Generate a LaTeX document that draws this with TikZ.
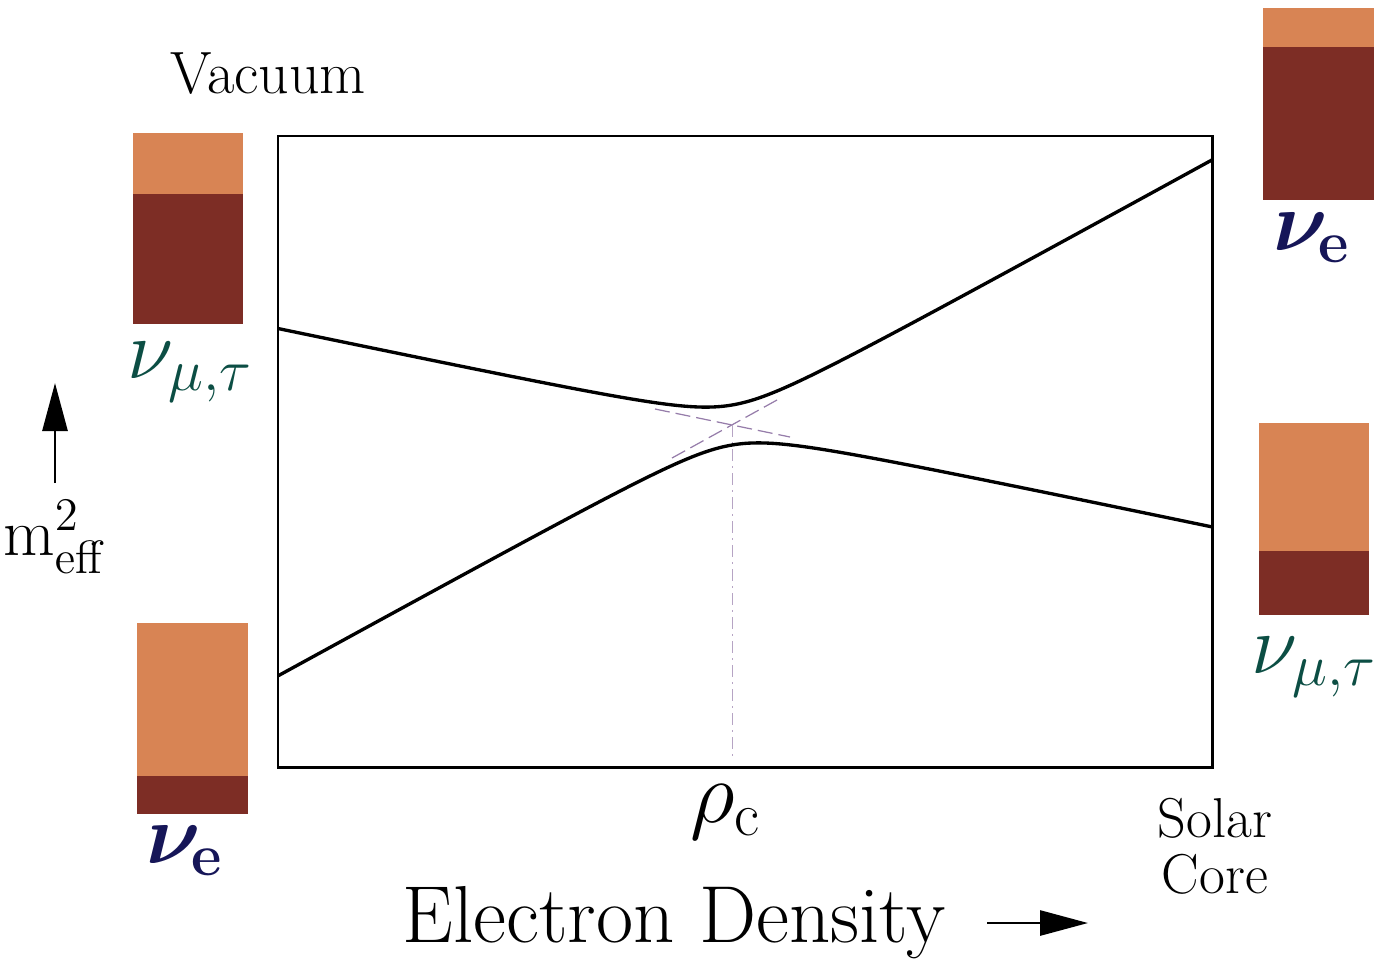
\RequirePackage{fix-cm}
\documentclass[tikz,border=0pt]{standalone}
\usepackage{amsmath, amssymb}
\usepackage{bm}
\usepackage{tikz}
\usetikzlibrary{arrows.meta}
\definecolor{boxDark}{RGB}{125, 45, 37}
\definecolor{boxLight}{RGB}{216, 132, 84}
\definecolor{nuBlue}{RGB}{22, 22, 88}
\definecolor{nuGreen}{RGB}{12, 78, 68}
\definecolor{crossGray}{RGB}{150, 125, 170}
\newcommand{\nuE}{$\bm{\nu}_{\mkern-1mu\textbf{e}}$}
\newcommand{\nuMT}{$\nu_{\mu,\tau}$}

\begin{document}
\begin{tikzpicture}[x=0.1mm, y=-0.1mm,
    txt/.style={anchor=base, inner sep=0pt, font=\fontsize{17}{20}\selectfont},
    nulbl/.style={anchor=base, inner sep=0pt, font=\fontsize{24}{28}\selectfont},
    level/.style={line width=0.95pt},
    diab/.style={crossGray, line width=0.35pt, dash pattern=on 1.5mm off 0.6mm},
    bigarrow/.style={line width=0.8pt, -{Triangle[length=4.8mm, width=2.5mm]}}]
  \useasboundingbox (0,0) rectangle (1385,963);
  % Flavour content bars (light = nu_e share)
  \fill[boxLight] (133,133) rectangle (243,194);
  \fill[boxDark] (133,194) rectangle (243,324);
  \fill[boxLight] (137,623) rectangle (248,776);
  \fill[boxDark] (137,776) rectangle (248,814);
  \fill[boxLight] (1263,8) rectangle (1374,47);
  \fill[boxDark] (1263,47) rectangle (1374,200);
  \fill[boxLight] (1259,423) rectangle (1369,551);
  \fill[boxDark] (1259,551) rectangle (1369,615);
  \node[nulbl, nuGreen] (numtL) at (190,378) {\nuMT};
  \node[nulbl, nuBlue] (nueL) at (185,863) {\nuE};
  \node[nulbl, nuBlue] (nueR) at (1312,250) {\nuE};
  \node[nulbl, nuGreen] (numtR) at (1314,673) {\nuMT};
  % Frame
  \draw[line width=0.85pt] (278,136) rectangle (1212,767);
  % Crossing of the diabatic levels
  \coordinate (cross) at (732,425);
  \coordinate (rhoaxis) at (732,760);
  \coordinate (dA1) at (672,458);
  \coordinate (dA2) at (777,400);
  \coordinate (dB1) at (655,409);
  \coordinate (dB2) at (790,437);
  \draw[diab] (dA1) -- (dA2);
  \draw[diab] (dB1) -- (dB2);
  \draw[diab, line width=0.25pt, crossGray!70, dash pattern=on 1.2mm off 0.5mm on 0.2mm off 0.5mm] (cross) -- (rhoaxis);
  % Adiabatic levels
  \draw[level] plot[domain=-4.54:4.8, samples=150, smooth]
    ({732+100*\x}, {425-17*\x-100*sqrt(0.1444*\x*\x+0.04)});
  \draw[level] plot[domain=-4.54:4.8, samples=150, smooth]
    ({732+100*\x}, {425-17*\x+100*sqrt(0.1444*\x*\x+0.04)});
  % Labels
  \node[txt] (vac) at (268,93) {Vacuum};
  \node[txt, font=\fontsize{16}{19}\selectfont] (solar) at (1215,837) {Solar};
  \node[txt, font=\fontsize{16}{19}\selectfont] (core) at (1215,893) {Core};
  \node[anchor=base, inner sep=0pt, font=\fontsize{25}{28}\selectfont] (rhoc) at (726,822) {$\rho_{\mathrm{c}}$};
  \node[anchor=base, inner sep=0pt, font=\fontsize{23}{27}\selectfont] (edens) at (674,942) {Electron Density};
  \node[anchor=base, inner sep=0pt, font=\fontsize{19}{22}\selectfont] (meff) at (55,555) {$\mathrm{m}^2_{\mathrm{eff}}$};
  % Axis arrows
  \coordinate (mfoot) at (55,483);
  \coordinate (mtip) at (55,383);
  \coordinate (efoot) at (987,923);
  \coordinate (etip) at (1088,923);
  \draw[bigarrow] (mfoot) -- (mtip);
  \draw[bigarrow] (efoot) -- (etip);
\end{tikzpicture}
\end{document}
